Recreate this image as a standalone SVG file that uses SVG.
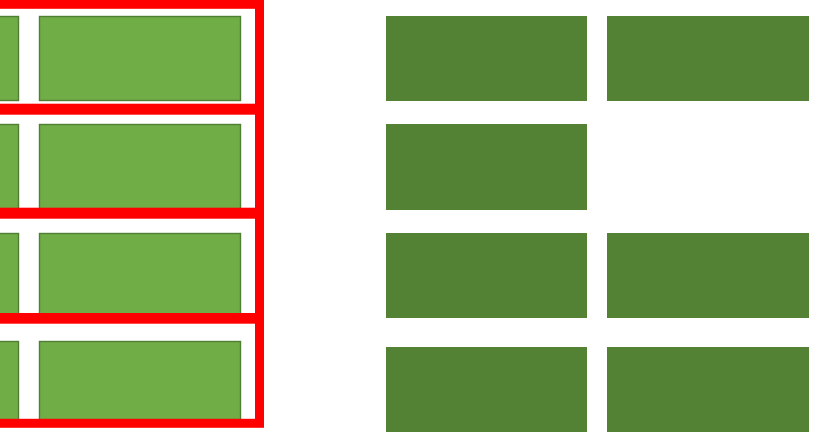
<svg xmlns="http://www.w3.org/2000/svg" width="825" height="432" viewBox="0 0 825 432">
<style>
.lg{fill:#70ad47;stroke:#507e32;stroke-width:1.4}
.dg{fill:#548235}
.fr{fill:none;stroke:#ff0000;stroke-width:9}
</style>
<rect width="825" height="432" fill="#ffffff"/>
<g id="left-blocks">
<rect id="l1a" class="lg" x="-183" y="16.5" width="201.5" height="84"/>
<rect id="l1b" class="lg" x="39.5" y="16.5" width="201" height="84"/>
<rect id="l2a" class="lg" x="-183" y="124.5" width="201.5" height="85"/>
<rect id="l2b" class="lg" x="39.5" y="124.5" width="201" height="85"/>
<rect id="l3a" class="lg" x="-183" y="233.5" width="201.5" height="84"/>
<rect id="l3b" class="lg" x="39.5" y="233.5" width="201" height="84"/>
<rect id="l4a" class="lg" x="-183" y="341.5" width="201.5" height="84"/>
<rect id="l4b" class="lg" x="39.5" y="341.5" width="201" height="84"/>
</g>
<g id="frames">
<rect class="fr" x="-20" y="4.3" width="279.5" height="103.9"/>
<rect class="fr" x="-20" y="110.2" width="279.5" height="102"/>
<rect class="fr" x="-20" y="214.2" width="279.5" height="103.3"/>
<rect class="fr" x="-20" y="319.2" width="279.5" height="104.1"/>
</g>
<g id="right-blocks">
<rect id="r1a" class="dg" x="386" y="16" width="201" height="85"/>
<rect id="r1b" class="dg" x="607" y="16" width="202" height="85"/>
<rect id="r2a" class="dg" x="386" y="124" width="201" height="86"/>
<rect id="r3a" class="dg" x="386" y="233" width="201" height="85"/>
<rect id="r3b" class="dg" x="607" y="233" width="202" height="85"/>
<rect id="r4a" class="dg" x="386" y="347" width="201" height="85"/>
<rect id="r4b" class="dg" x="607" y="347" width="202" height="85"/>
</g>
</svg>
